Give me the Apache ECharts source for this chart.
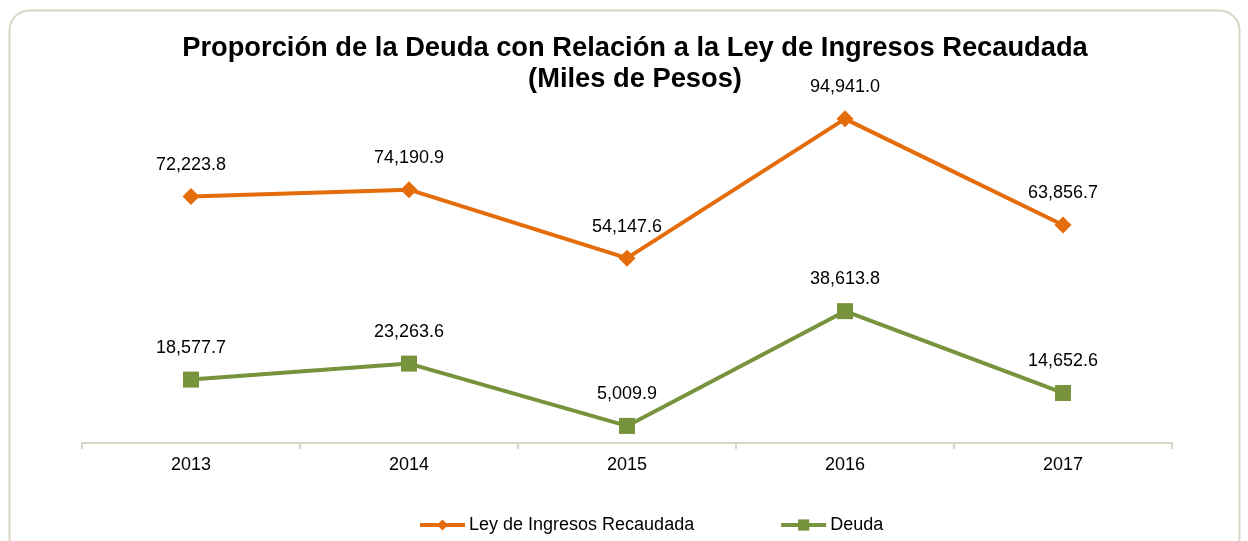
<!DOCTYPE html>
<html>
<head>
<meta charset="utf-8">
<script src="https://cdn.jsdelivr.net/npm/echarts@6/dist/echarts.min.js"></script>
<style>
html,body{margin:0;padding:0;background:#fff;}
#chart{width:1248px;height:541px;}
</style>
</head>
<body>
<div id="chart"></div>
<script>
var categories = ['2013', '2014', '2015', '2016', '2017'];
var leyIngresos = [72223.8, 74190.9, 54147.6, 94941.0, 63856.7];
var deuda = [18577.7, 23263.6, 5009.9, 38613.8, 14652.6];
var seriesNames = ['Ley de Ingresos Recaudada', 'Deuda'];

var chart = echarts.init(document.getElementById('chart'));
var fmt = function (p) {
  return p.value.toLocaleString('en-US', {minimumFractionDigits: 1, maximumFractionDigits: 1});
};
var font = 'Liberation Sans, Arial, sans-serif';
chart.setOption({
  animation: false,
  textStyle: {fontFamily: font},
  graphic: [{
    type: 'rect',
    shape: {x: 9.5, y: 10.5, width: 1230, height: 580, r: 20},
    style: {fill: 'none', stroke: '#d6d6c4', lineWidth: 2},
    silent: true, z: -10
  }],
  title: {
    text: 'Proporción de la Deuda con Relación a la Ley de Ingresos Recaudada\n(Miles de Pesos)',
    left: 630, top: 28, textAlign: 'center',
    textStyle: {fontFamily: font, fontSize: 27.3, fontWeight: 'bold', color: '#000', lineHeight: 31}
  },
  legend: {
    bottom: 2, left: 413,
    itemWidth: 45, itemHeight: 14, itemGap: 85,
    lineStyle: {width: 4},
    textStyle: {fontFamily: font, fontSize: 18, color: '#000', padding: [0, 0, 0, -1]},
    data: seriesNames
  },
  grid: {left: 82, right: 76, top: 101.6, bottom: 98},
  xAxis: {
    type: 'category', data: categories, boundaryGap: true,
    axisLine: {lineStyle: {color: '#d6d6c4', width: 2}},
    axisTick: {show: true, length: 6, lineStyle: {color: '#d6d6c4', width: 2}},
    axisLabel: {color: '#000', fontSize: 18, fontFamily: font, margin: 13}
  },
  yAxis: {
    type: 'value', min: 0, max: 100000, show: false,
    splitLine: {show: false}
  },
  series: [{
    name: seriesNames[0], type: 'line', data: leyIngresos,
    symbol: 'diamond', symbolSize: 17,
    lineStyle: {color: '#e46c0a', width: 4},
    itemStyle: {color: '#e46c0a'},
    label: {show: true, position: 'top', distance: 14, formatter: fmt, color: '#000', fontSize: 18, fontFamily: font}
  }, {
    name: seriesNames[1], type: 'line', data: deuda,
    symbol: 'rect', symbolSize: 16,
    lineStyle: {color: '#77933c', width: 4},
    itemStyle: {color: '#77933c'},
    label: {show: true, position: 'top', distance: 15, formatter: fmt, color: '#000', fontSize: 18, fontFamily: font}
  }]
});
</script>
</body>
</html>
